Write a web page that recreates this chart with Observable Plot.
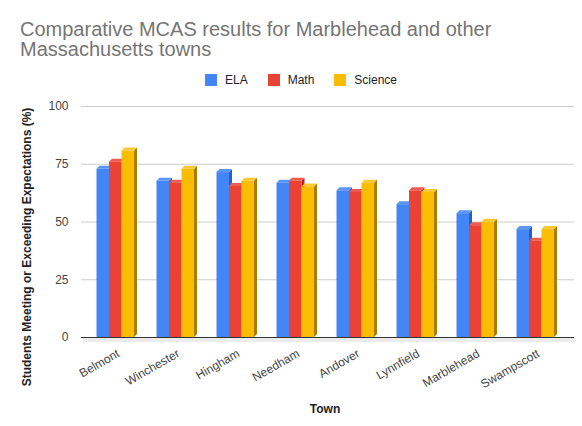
<!DOCTYPE html>
<html>
<head>
<meta charset="utf-8">
<script src="https://cdn.jsdelivr.net/npm/d3@7"></script>
<script src="https://cdn.jsdelivr.net/npm/@observablehq/plot@0.6"></script>
<style>
  html, body { margin: 0; padding: 0; background: #fff; }
  #wrap { position: relative; width: 582px; height: 426px; font-family: Arial, "Liberation Sans", sans-serif; overflow: hidden; }
  #title { position: absolute; left: 20px; top: 19px; font-size: 20px; line-height: 20px; color: #757575; width: 560px; }
  #legend { position: absolute; top: 73px; left: 10px; width: 582px; display: flex; justify-content: center; font-size: 12px; color: #222; }
  .item { display: flex; align-items: center; margin: 0 10px; }
  .sw { width: 12px; height: 12px; margin-right: 8px; }
  #ylabel { position: absolute; left: 27px; top: 247px; transform: translate(-50%, -50%) rotate(-90deg); font-size: 12px; font-weight: bold; color: #222; white-space: nowrap; }
  #xlabel { position: absolute; left: 325px; top: 402px; transform: translateX(-50%); font-size: 12px; font-weight: bold; color: #222; }
  #chart { position: absolute; left: 0; top: 0; }
</style>
</head>
<body>
<div id="wrap">
  <div id="chart"></div>
  <div id="title">Comparative MCAS results for Marblehead and other Massachusetts towns</div>
  <div id="legend"></div>
  <div id="ylabel">Students Meeting or Exceeding Expectations (%)</div>
  <div id="xlabel">Town</div>
</div>
<script>
const towns = ["Belmont", "Winchester", "Hingham", "Needham", "Andover", "Lynnfield", "Marblehead", "Swampscott"];
const subjects = ["ELA", "Math", "Science"];
const ela = [72.8, 67.6, 71.4, 66.8, 63.5, 57.5, 53.6, 46.7];
const math = [75.9, 66.8, 65.4, 67.6, 62.8, 63.5, 48.4, 41.7];
const science = [80.7, 72.8, 67.6, 65.2, 66.8, 62.8, 49.9, 46.7];
const yTicks = [0, 25, 50, 75, 100];
const colors = ["#4285F4", "#EA4335", "#FBBC04"];
const sideColors = ["#2d5fb8", "#a82a20", "#a87d00"];
const capColors = ["#5b96f6", "#ee5c50", "#fcc733"];

const series = [ela, math, science];
const rows = [];
subjects.forEach((s, i) => towns.forEach((t, j) => rows.push({town: t, subject: s, value: series[i][j]})));

// legend
const lg = document.getElementById("legend");
subjects.forEach((s, i) => {
  const it = document.createElement("div");
  it.className = "item";
  it.innerHTML = `<div class="sw" style="background:${colors[i]}"></div><span>${s}</span>`;
  lg.appendChild(it);
});

const depth = 3;
function bar3d(i) {
  return (index, scales, values, dimensions, context, next) => {
    const g = next(index, scales, values, dimensions, context);
    const ns = "http://www.w3.org/2000/svg";
    for (const r of Array.from(g.querySelectorAll("rect"))) {
      const x = +r.getAttribute("x"), y = +r.getAttribute("y");
      const w = +r.getAttribute("width"), h = +r.getAttribute("height");
      const side = document.createElementNS(ns, "polygon");
      side.setAttribute("points", `${x+w},${y} ${x+w+depth},${y-depth} ${x+w+depth},${y+h-depth} ${x+w},${y+h}`);
      side.setAttribute("fill", sideColors[i]);
      const cap = document.createElementNS(ns, "polygon");
      cap.setAttribute("points", `${x},${y} ${x+depth},${y-depth} ${x+w+depth},${y-depth} ${x+w},${y}`);
      cap.setAttribute("fill", capColors[i]);
      r.parentNode.insertBefore(side, r);
      r.parentNode.insertBefore(cap, r);
    }
    return g;
  };
}

const barW = 12.5;
const step = 60;
const offsets = [8.5, 21, 33.5];

const marks = [
  Plot.ruleY(yTicks.filter(d => d > 0), {stroke: "#cccccc", strokeWidth: 1}),
  Plot.ruleY([0], {stroke: "#ececec", strokeWidth: 4, dy: 2.5, dx: 2}),
  Plot.axisY({ticks: yTicks, tickSize: 0, tickPadding: 13, fontSize: 12, fill: "#444", label: null}),
  Plot.axisX({tickRotate: -30, tickSize: 0, tickPadding: 15, fontSize: 12, fill: "#444", label: null})
];
subjects.forEach((s, i) => {
  marks.push(Plot.barY(rows.filter(d => d.subject === s), {
    x: "town", y: "value", fill: colors[i],
    insetLeft: offsets[i], insetRight: step - offsets[i] - barW,
    y1: 0, y2: "value",
    render: bar3d(i)
  }));
});
marks.push(Plot.ruleY([0], {stroke: "#333", strokeWidth: 1}));

const chart = Plot.plot({
  width: 582,
  height: 426,
  marginLeft: 81,
  marginRight: 8,
  marginTop: 106,
  marginBottom: 89,
  style: {fontFamily: "Arial, 'Liberation Sans', sans-serif", background: "transparent"},
  x: {type: "band", domain: towns, range: [87.5, 567.5], padding: 0},
  y: {domain: [0, 100]},
  marks
});
document.getElementById("chart").appendChild(chart);
</script>
</body>
</html>
